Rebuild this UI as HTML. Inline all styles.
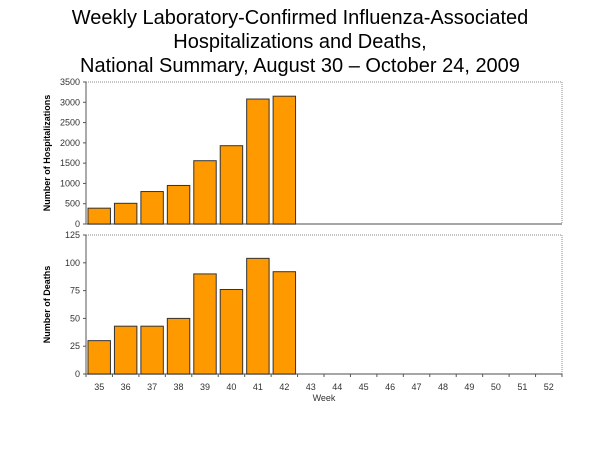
<!DOCTYPE html>
<html><head><style>
body{margin:0;background:#fff;width:600px;height:450px;overflow:hidden}
svg text{font-family:"Liberation Sans",Arial,sans-serif}
</style></head><body>
<svg width="600" height="450">
<text x="300" y="24" font-size="20" text-anchor="middle">Weekly Laboratory-Confirmed Influenza-Associated</text>
<text x="300" y="48" font-size="20" text-anchor="middle">Hospitalizations and Deaths,</text>
<text x="300" y="72" font-size="20" text-anchor="middle">National Summary, August 30 – October 24, 2009</text>
<g id="g"></g>
</svg>
<script>
const weeks=[35,36,37,38,39,40,41,42,43,44,45,46,47,48,49,50,51,52];
const hosp=[390,510,800,950,1560,1930,3080,3150];
const deaths=[30,43,43,50,90,76,104,92];
const hospTicks=[0,500,1000,1500,2000,2500,3000,3500];
const deathTicks=[0,25,50,75,100,125];
const NS='http://www.w3.org/2000/svg',g=document.getElementById('g');
const L=86,R=562,cw=(R-L)/weeks.length;
function mk(t,a,p){const e=document.createElementNS(NS,t);for(const k in a)e.setAttribute(k,a[k]);(p||g).appendChild(e);return e;}
function panel(name,top,bot,max,vals,ticks,title){
  const y=v=>bot-(v/max)*(bot-top);
  const box=mk('rect',{x:L,y:top,width:R-L,height:bot-top,fill:'none',stroke:'#888','stroke-dasharray':'1,1'});
  
  
  ticks.forEach(t=>{
    const tl=mk('text',{x:L-6,y:y(t)+3,'font-size':9,'text-anchor':'end',fill:'#333'});tl.textContent=t;
    
    
    mk('line',{x1:L-3,x2:L,y1:y(t),y2:y(t),stroke:'#555'});
  });
  mk('line',{x1:L,x2:L,y1:top,y2:bot,stroke:'#555'});
  mk('line',{x1:L,x2:R,y1:bot,y2:bot,stroke:'#888','stroke-width':1.5});
  vals.forEach((v,i)=>{
    const b=mk('rect',{x:L+i*cw+2,y:y(v),width:cw-4,height:bot-y(v),fill:'#ff9900',stroke:'#333','stroke-width':1});
    
    
  });
  const cy=(top+bot)/2;
  const at=mk('text',{x:0,y:0,'font-size':9,'font-weight':'bold','text-anchor':'middle',transform:`translate(50,${cy}) rotate(-90)`});at.textContent=title;
  
  
}
panel('hospitalizations',82,224,3500,hosp,hospTicks,'Number of Hospitalizations');
panel('deaths',235,374,125,deaths,deathTicks,'Number of Deaths');
weeks.forEach((w,i)=>{
  mk('line',{x1:L+i*cw,x2:L+i*cw,y1:374,y2:377,stroke:'#555'});
  const t=mk('text',{x:L+(i+0.5)*cw,y:390,'font-size':9,'text-anchor':'middle',fill:'#333'});t.textContent=w;
  
  
});
mk('line',{x1:R,x2:R,y1:374,y2:377,stroke:'#555'});
const xt=mk('text',{x:L+(R-L)/2,y:401,'font-size':9,'text-anchor':'middle',fill:'#333'});xt.textContent='Week';


</script>
</body></html>
